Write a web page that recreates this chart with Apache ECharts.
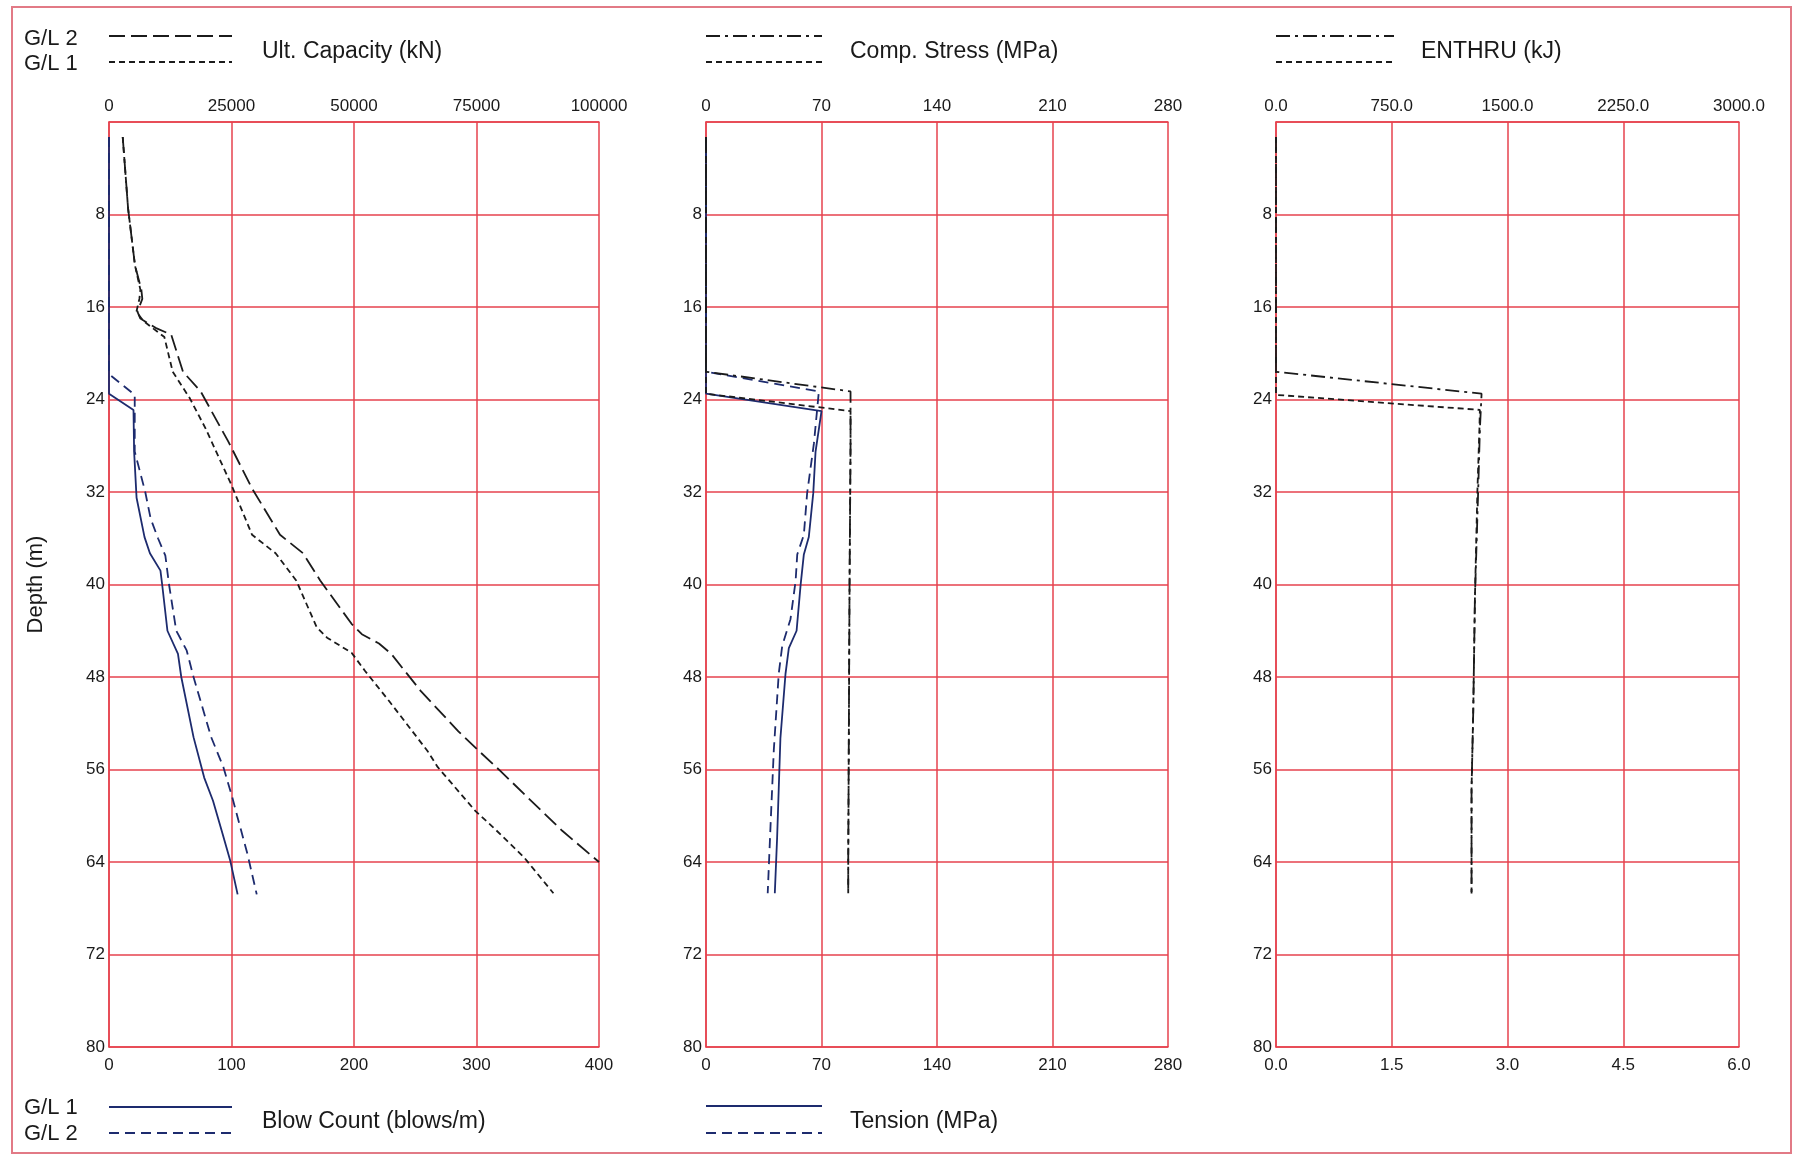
<!DOCTYPE html>
<html>
<head>
<meta charset="utf-8">
<script src="https://cdn.jsdelivr.net/npm/echarts@6/dist/echarts.min.js"></script>
<style>
html,body{margin:0;padding:0;background:#fff;}
#c{width:1794px;height:1158px;}
</style>
</head>
<body>
<div id="c"></div>
<script>
// ---------- DATA ----------
// Depth axis ticks (m)
const depthTicks = [0, 8, 16, 24, 32, 40, 48, 56, 64, 72, 80];

// Ult. Capacity (kN)
const capG2Depth = [1.3, 7.5, 12.4, 14.5, 15.3, 16.4, 17.0, 17.8, 18.4, 21.6, 23.3, 27.6, 31.7, 35.7, 37.3, 39.65, 43.4, 44.3, 45.1, 46.0, 49.2, 52.7, 54.4, 56.1, 58.4, 61.3, 64.0];
const capG2Val   = [2800, 3900, 5300, 6600, 6800, 5800, 6400, 9500, 12700, 15100, 18700, 24300, 29200, 34900, 39600, 43100, 49500, 51600, 55100, 57600, 63600, 71300, 75500, 79800, 85400, 92500, 100000];
const capG1Depth = [1.3, 7.5, 12.4, 14.5, 15.3, 16.4, 17.2, 18.6, 21.6, 23.9, 26.5, 31.4, 35.7, 37.3, 39.65, 43.7, 44.6, 45.9, 47.5, 50.1, 54.4, 55.8, 59.6, 61.0, 63.6, 66.7];
const capG1Val   = [2800, 3900, 5300, 6400, 6200, 5600, 7000, 11300, 13000, 16500, 19700, 25000, 29200, 34000, 38200, 42400, 44500, 49500, 52300, 57200, 65000, 67100, 74800, 78400, 84700, 90700];

// Blow Count (blows/m)
const blowG1Depth = [1.3, 23.5, 24.9, 28.5, 32.5, 35.9, 37.3, 38.8, 40.0, 44.0, 46.0, 48.0, 53.2, 56.7, 58.7, 61.3, 63.9, 66.8];
const blowG1Val   = [0, 0, 20, 20.5, 22.5, 29, 33.4, 42, 43.4, 47.7, 56.3, 59, 69, 77.7, 84.9, 92, 99, 105];
const blowG2Depth = [1.3, 21.8, 23.6, 28.5, 32.0, 34.3, 36.0, 37.5, 40.0, 44.0, 45.7, 48.0, 53.2, 55.8, 58.4, 63.3, 66.8];
const blowG2Val   = [0, 0, 21, 21, 29.6, 34, 40, 46, 49, 54.9, 63.4, 69, 83.4, 93.4, 100.6, 113, 120.6];

// Comp. Stress (MPa)
const compG2Depth = [1.3, 21.6, 23.3, 28.0, 40.0, 64.0, 66.7];
const compG2Val   = [0, 0, 87.6, 87.6, 87.0, 86.2, 86.2];
const compG1Depth = [1.3, 23.5, 25.0, 28.0, 40.0, 64.0, 66.7];
const compG1Val   = [0, 0, 87.6, 87.6, 87.0, 86.2, 86.2];

// Tension (MPa)
const tenG1Depth = [1.3, 23.5, 25.0, 28.5, 32.1, 35.9, 37.4, 40.1, 44.0, 45.5, 47.7, 53.3, 61.9, 66.7];
const tenG1Val   = [0, 0, 70, 66.4, 65, 62.3, 59.3, 57.3, 54.9, 50.2, 48.2, 45.1, 43.1, 41.7];
const tenG2Depth = [1.3, 21.6, 23.3, 27.8, 32.1, 35.7, 37.4, 39.7, 43.0, 45.3, 47.7, 54.3, 60.9, 66.7];
const tenG2Val   = [0, 0, 68.4, 65.4, 61.3, 59.3, 55.3, 54.3, 51.2, 46.2, 44.1, 41.1, 39.1, 37.4];

// ENTHRU (kJ)
const enG2Depth = [1.3, 21.6, 23.5, 26.6, 31.9, 41.1, 51.0, 57.7, 66.8];
const enG2Val   = [0, 0, 1332, 1321, 1310, 1289, 1278, 1267, 1267];
const enG1Depth = [1.3, 23.6, 24.9, 26.6, 31.9, 41.1, 51.0, 57.7, 66.8];
const enG1Val   = [0, 0, 1321, 1318, 1305, 1289, 1278, 1267, 1267];

// Axis tick values
const capTicks = [0, 25000, 50000, 75000, 100000];
const blowTicks = [0, 100, 200, 300, 400];
const stressTicks = [0, 70, 140, 210, 280];
const enTicks = [0, 750, 1500, 2250, 3000];
const en2Ticks = [0, 1.5, 3.0, 4.5, 6.0];

// ---------- CHART ----------
const FONT = '"Liberation Sans", Arial, sans-serif';
const RED = '#e6424e';
const BLACK = '#1b1b1b';
const NAVY = '#1d2b6e';

function pairs(vals, depths){ return vals.map((v,i)=>[v, depths[i]]); }

const grids = [
  {left:109, top:122, width:490, height:925},
  {left:706, top:122, width:462, height:925},
  {left:1276, top:122, width:463, height:925}
];

function xAx(gi, pos, ticks, fmt, split){
  return {
    type:'value', gridIndex:gi, position:pos,
    min:ticks[0], max:ticks[ticks.length-1], interval:ticks[1]-ticks[0],
    axisLine:{show:true, lineStyle:{color:RED, width:1.5}},
    axisTick:{show:false},
    splitLine:{show:split, lineStyle:{color:RED, width:1.5}},
    axisLabel:{color:'#1a1a1a', fontFamily:FONT, fontSize:17, margin: pos === 'top' ? 7 : 10,
      formatter: fmt || (v=>String(v))}
  };
}
function yAx(gi, named){
  const o = {
    type:'value', gridIndex:gi, inverse:true,
    min:depthTicks[0], max:depthTicks[depthTicks.length-1], interval:depthTicks[1]-depthTicks[0],
    axisLine:{show:true, lineStyle:{color:RED, width:1.5}},
    axisTick:{show:false},
    splitLine:{show:true, lineStyle:{color:RED, width:1.5}},
    axisLabel:{color:'#1a1a1a', fontFamily:FONT, fontSize:17, margin:4,
      formatter: v => v === 0 ? '' : String(v)}
  };
  if (named){
    o.name = 'Depth (m)';
    o.nameLocation = 'middle';
    o.nameGap = 62;
    o.nameRotate = 90;
    o.nameTextStyle = {color:'#1a1a1a', fontFamily:FONT, fontSize:22};
  }
  return o;
}

const fx1 = v => v.toFixed(1);

function ser(name, xi, yi, vals, depths, color, type, width){
  return {
    name, type:'line', xAxisIndex:xi, yAxisIndex:yi,
    data: pairs(vals, depths), symbol:'none', showSymbol:false, animation:false,
    lineStyle:{color, width: width || 1.8, type}
  };
}

const LONG = [16, 6];
const SHORT = [6, 4];
const DASHDOT = [14, 5, 3, 5];
const NAVYDASH = [10, 6];

// legend decorations
function legLine(x1, x2, y, color, dash){
  return {type:'line', shape:{x1, y1:y, x2, y2:y},
    style:{stroke:color, lineWidth:2, lineDash:dash}};
}
function legText(x, y, text, size){
  return {type:'text', x, y, style:{text, font:(size||22)+'px '+FONT, fill:'#1a1a1a',
    textVerticalAlign:'middle', verticalAlign:'middle'}};
}

const graphic = [
  {type:'rect', shape:{x:12, y:7, width:1779, height:1146},
   style:{fill:'none', stroke:'#e27a86', lineWidth:2}},
  // top legends
  legText(24, 39, 'G/L 2'), legText(24, 64, 'G/L 1'),
  legLine(109, 232, 36, BLACK, LONG), legLine(109, 232, 62, BLACK, SHORT),
  legText(262, 52, 'Ult. Capacity (kN)', 23),
  legLine(706, 822, 36, BLACK, DASHDOT), legLine(706, 822, 62, BLACK, SHORT),
  legText(850, 52, 'Comp. Stress (MPa)', 23),
  legLine(1276, 1394, 36, BLACK, DASHDOT), legLine(1276, 1394, 62, BLACK, SHORT),
  legText(1421, 52, 'ENTHRU (kJ)', 23),
  // bottom legends
  legText(24, 1108, 'G/L 1'), legText(24, 1134, 'G/L 2'),
  legLine(109, 232, 1107, NAVY, null), legLine(109, 232, 1133, NAVY, NAVYDASH),
  legText(262, 1122, 'Blow Count (blows/m)', 23),
  legLine(706, 822, 1106, NAVY, null), legLine(706, 822, 1133, NAVY, NAVYDASH),
  legText(850, 1122, 'Tension (MPa)', 23)
];

const option = {
  backgroundColor:'#ffffff',
  animation:false,
  grid: grids,
  xAxis: [
    xAx(0, 'top', capTicks, null, true),
    xAx(0, 'bottom', blowTicks, null, false),
    xAx(1, 'top', stressTicks, null, true),
    xAx(1, 'bottom', stressTicks, null, false),
    xAx(2, 'top', enTicks, fx1, true),
    xAx(2, 'bottom', en2Ticks, fx1, false)
  ],
  yAxis: [yAx(0, true), yAx(1, false), yAx(2, false)],
  graphic,
  series: [
    ser('Blow Count G/L 1', 1, 0, blowG1Val, blowG1Depth, NAVY, 'solid', 1.8),
    ser('Blow Count G/L 2', 1, 0, blowG2Val, blowG2Depth, NAVY, NAVYDASH, 1.8),
    ser('Ult. Capacity G/L 2', 0, 0, capG2Val, capG2Depth, BLACK, LONG, 1.8),
    ser('Ult. Capacity G/L 1', 0, 0, capG1Val, capG1Depth, BLACK, SHORT, 1.8),
    ser('Tension G/L 1', 3, 1, tenG1Val, tenG1Depth, NAVY, 'solid', 1.8),
    ser('Tension G/L 2', 3, 1, tenG2Val, tenG2Depth, NAVY, NAVYDASH, 1.8),
    ser('Comp. Stress G/L 2', 2, 1, compG2Val, compG2Depth, BLACK, DASHDOT, 1.8),
    ser('Comp. Stress G/L 1', 2, 1, compG1Val, compG1Depth, BLACK, SHORT, 1.8),
    ser('ENTHRU G/L 2', 4, 2, enG2Val, enG2Depth, BLACK, DASHDOT, 1.8),
    ser('ENTHRU G/L 1', 4, 2, enG1Val, enG1Depth, BLACK, SHORT, 1.8)
  ]
};

const chart = echarts.init(document.getElementById('c'), null, {renderer:'canvas'});
chart.setOption(option);
</script>
</body>
</html>
